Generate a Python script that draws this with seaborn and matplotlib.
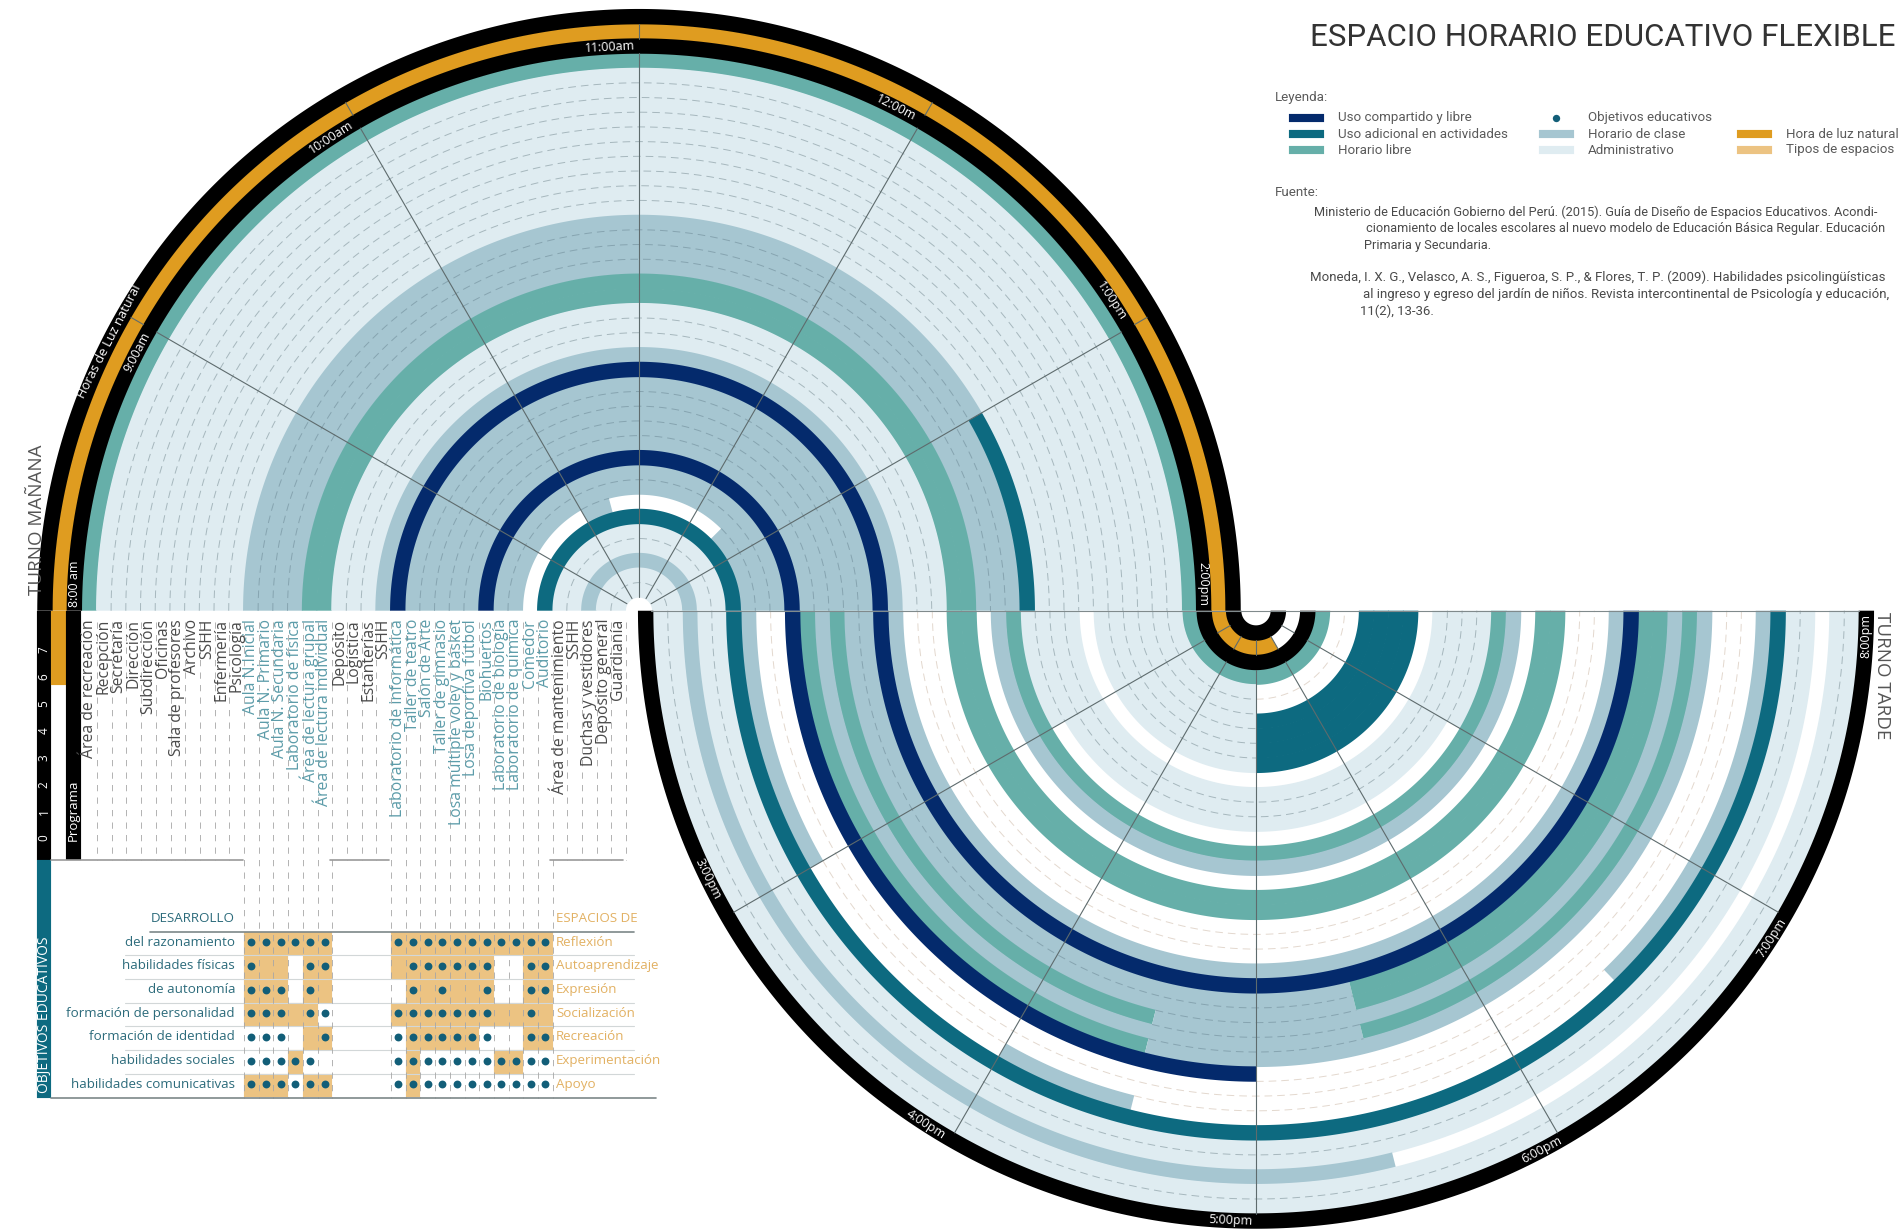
import numpy as np
import pandas as pd
import matplotlib
matplotlib.use("Agg")
import matplotlib.pyplot as plt
import seaborn as sns

# ---------- data ----------
rooms = ["Área de recreación", "Recepción", "Secretaría", "Dirección", "Subdirección", "Oficinas",
         "Sala de profesores", "Archivo", "SSHH", "Enfermería", "Psicología",
         "Aula N.Inicial", "Aula N. Primario", "Aula N. Secundaria", "Laboratorio de física",
         "Área de lectura grupal", "Área de lectura individual",
         "Depósito", "Logística", "Estanterías", "SSHH",
         "Laboratorio de informática", "Taller de teatro", "Salón de Arte", "Taller de gimnasio",
         "Losa múltiple voley y básket", "Losa deportiva fútbol", "Biohuertos",
         "Laboratorio de biología", "Laboratorio de química", "Comedor", "Auditorio",
         "Área de mantenimiento", "SSHH", "Duchas y vestidores", "Depósito general", "Guardianía"]
teal_rooms = list(range(11, 17)) + list(range(21, 32))

# ring codes from ring -3 (outer band of the morning half) to ring 36
morning_codes = list("KOK" + "H" + "L" * 10 + "CCCC" + "HH" + "LLL" + "C" + "U" + "CCCCC" + "U" + "CC" + "W" + "A" + "LL" + "C" + "LL")
morning_changes = [(11, 13, 14, "A"), (30, 10, 10.5, "C"), (30, 12.5, 14, "C")]

# ring codes from ring -3 to ring 37 for the afternoon half
afternoon_codes = list("KOK" + "H" + "LLLLLL" + "W" + "LLLL" + "H" + "C" + "W" + "HH" + "WWW" + "C" + "U" + "CC" + "H" + "C" + "H" + "U" + "WW" + "C" + "A" + "LL" + "C" + "LL" + "K")
afternoon_changes = [(-2, 18, 20, "W"), (1, 17, 20, "W"), (2, 17, 20, "W"),
                     (3, 17, 20, "A"), (4, 17, 20, "A"), (5, 17, 20, "A"), (6, 17, 20, "A"),
                     (11, 15, 19, "W"), (22, 17.47, 20, "H"), (23, 17.47, 20, "H"),
                     (24, 16.53, 20, "C"), (25, 17.47, 20, "H"), (26, 16.53, 20, "C"),
                     (27, 17, 20, "W"), (30, 15, 16, "W"), (30, 16.53, 18.47, "W"), (34, 17.47, 20, "W")]

palette = {"L": "#DFECF1", "C": "#A6C6D1", "H": "#66AFA9", "A": "#0D6A80", "U": "#042A6C",
           "W": "#FFFFFF", "K": "#000000", "O": "#DF9C20"}

morning_labels = ["8:00 am", "9:00am", "10:00am", "11:00am", "12:00m", "1:00pm", "2:00pm"]
morning_label_hours = [8.09, 8.91, 9.9, 10.9, 11.9, 12.89, 13.91]
afternoon_labels = ["3:00pm", "4:00pm", "5:00pm", "6:00pm", "7:00pm", "8:00pm"]
afternoon_label_hours = [14.87, 15.91, 16.92, 17.93, 18.92, 19.92]

objetivos = ["del razonamiento", "habilidades físicas", "de autonomía", "formación de personalidad",
             "formación de identidad", "habilidades sociales", "habilidades comunicativas"]
espacios = ["Reflexión", "Autoaprendizaje", "Expresión", "Socialización", "Recreación",
            "Experimentación", "Apoyo"]
table_rooms = list(range(11, 17)) + list(range(21, 32))
table_fill = ["111111" + "11111111111",
              "111011" + "11111110011",
              "111011" + "01111110011",
              "111110" + "11111111111",
              "000011" + "01111100011",
              "000100" + "01000001100",
              "111011" + "01000000000"]
table_dots = ["111111" + "11111111111",
              "100011" + "01111110011",
              "111010" + "01010010011",
              "111011" + "11111110010",
              "111001" + "11111110011",
              "111110" + "11111111111",
              "111111" + "11111111111"]
scale_numbers = [7, 6, 5, 4, 3, 2, 1, 0]

# ---------- geometry (pixels of the 1901x1232 canvas) ----------
RING = 14.7
BASE_Y = 610.7
CX1, CX2 = 639.0, 1256.0
TEAL_TXT = "#5C9CA9"
DARK_TXT = "#4a4a4a"
TBL_TXT = "#2C6B7B"
ORANGE_LIGHT = "#ECC382"
ORANGE_TXT = "#E2B163"
BODY = "Open Sans"
DIN = "Roboto"

sns.set_theme(style="white")
plt.rcParams["font.family"] = [BODY, "DejaVu Sans"]
plt.rcParams["lines.scale_dashes"] = False

fig = plt.figure(figsize=(19.01, 12.32), dpi=100, facecolor="white")
ax = fig.add_axes([0, 0, 1, 1])
ax.set_xlim(0, 1901)
ax.set_ylim(1232, 0)
ax.axis("off")


def top_r(j):
    return 13.4 + RING * (36 - j)


def bot_r(j):
    return 15.0 + RING * (j + 3)


def theta(h):
    return np.deg2rad(180 - (h - 8) * 30) if h <= 14 else np.deg2rad(180 + (h - 14) * 30)


def angles(h0, h1):
    n = max(2, int(abs(h1 - h0) * 60))
    hs = np.linspace(h0, h1, n)
    if h1 <= 14:
        return np.deg2rad(180 - (hs - 8) * 30)
    return np.deg2rad(180 + (hs - 14) * 30)


def band(cx, r0, r1, h0, h1, color, z=2):
    t = angles(h0, h1)
    xs = np.r_[cx + r0 * np.cos(t), cx + r1 * np.cos(t[::-1])]
    ys = np.r_[BASE_Y - r0 * np.sin(t), BASE_Y - r1 * np.sin(t[::-1])]
    ax.fill(xs, ys, facecolor=color, edgecolor="none", zorder=z)


def arc(cx, r, h0, h1, **kw):
    t = angles(h0, h1)
    ax.plot(cx + r * np.cos(t), BASE_Y - r * np.sin(t), **kw)


def rect(x0, x1, y0, y1, color, z=2):
    ax.fill([x0, x1, x1, x0], [y0, y0, y1, y1], facecolor=color, edgecolor=color, lw=0.1, zorder=z)


def draw_half(codes, changes, h_start, h_end, cx, rfun):
    frame = pd.DataFrame({"ring": range(-3, len(codes) - 3), "code": codes})
    grids = {}
    for ring, code in zip(frame["ring"], frame["code"]):
        edits = [c for c in changes if c[0] == ring]
        pts = sorted({h_start, h_end} | {c[1] for c in edits} | {c[2] for c in edits})
        segs = []
        for a, b in zip(pts[:-1], pts[1:]):
            cat = code
            for c in edits:
                if c[1] <= a and b <= c[2]:
                    cat = c[3]
            segs.append((a, b, cat))
        grids[ring] = segs
    # rings with the same kind side by side are filled with a slight overlap, so no seam shows
    for ring in frame["ring"]:
        for a, b, cat in grids[ring]:
            if cat != "W":
                band(cx, rfun(ring) - 0.35, rfun(ring) + RING + 0.35, a, b, palette[cat],
                     z=2 + (0.1 if cat in "UAK" else 0))
    rings = list(frame["ring"])
    for r_a, r_b in zip(rings[:-1], rings[1:]):
        pts = sorted({p for s in grids[r_a] + grids[r_b] for p in s[:2]})
        radius = max(rfun(r_a), rfun(r_b))
        for a, b in zip(pts[:-1], pts[1:]):
            mid = (a + b) / 2
            ca = next(s[2] for s in grids[r_a] if s[0] <= mid <= s[1])
            cb = next(s[2] for s in grids[r_b] if s[0] <= mid <= s[1])
            if ca == cb and ca in "LCW":
                col = {"L": "#A6B7BD", "C": "#86A4B0", "W": "#E3D8CE"}[ca]
                arc(cx, radius, a, b, color=col, lw=0.7, ls=(0, (5.5, 3.6)), zorder=3)


draw_half(morning_codes, morning_changes, 8, 14, CX1, top_r)
draw_half(afternoon_codes, afternoon_changes, 14.0001, 20, CX2, bot_r)

# spokes
SPOKE = "#5e6b6d"
for h in range(9, 14):
    t = theta(h)
    for r0, r1 in [(14, top_r(0) + RING), (top_r(-2), top_r(-2) + RING)]:
        ax.plot([CX1 + r0 * np.cos(t), CX1 + r1 * np.cos(t)],
                [BASE_Y - r0 * np.sin(t), BASE_Y - r1 * np.sin(t)], color=SPOKE, lw=0.8, zorder=4)
for h in range(15, 20):
    t = theta(h)
    for r0, r1 in [(bot_r(-2), bot_r(-2) + RING), (bot_r(0), bot_r(37))]:
        ax.plot([CX2 + r0 * np.cos(t), CX2 + r1 * np.cos(t)],
                [BASE_Y - r0 * np.sin(t), BASE_Y - r1 * np.sin(t)], color=SPOKE, lw=0.8, zorder=4)
ax.plot([CX1 + 12, CX2 + bot_r(37)], [BASE_Y, BASE_Y], color="#808a8c", lw=0.8, zorder=4)

# hour labels on the black bands
r_lab = top_r(-1) + RING / 2
for lab, h in zip(morning_labels, morning_label_hours):
    t = theta(h)
    rot = 180 - (h - 8) * 30 - 90
    if lab == "8:00 am":
        rot = 90
    if lab == "2:00pm":
        rot = -90
    ax.text(CX1 + r_lab * np.cos(t), BASE_Y - r_lab * np.sin(t), lab, color="white", fontsize=9,
            rotation=rot, ha="center", va="center", rotation_mode="anchor", zorder=6)
r_lab2 = bot_r(37) + RING / 2
for lab, h in zip(afternoon_labels, afternoon_label_hours):
    t = theta(h)
    rot = (180 + (h - 14) * 30) + 90
    if lab == "8:00pm":
        rot = 90
    ax.text(CX2 + r_lab2 * np.cos(t), BASE_Y - r_lab2 * np.sin(t), lab, color="white", fontsize=9,
            rotation=rot, ha="center", va="center", rotation_mode="anchor", zorder=6)
t = np.deg2rad(153)
r_h = top_r(-3) + RING / 2
ax.text(CX1 + r_h * np.cos(t), BASE_Y - r_h * np.sin(t), "Horas de Luz natural", color="white", fontsize=9.3,
        rotation=63, ha="center", va="center", rotation_mode="anchor", zorder=6)

# left side columns
rect(37, 51, BASE_Y, 860, "#000000")
rect(51, 65.6, BASE_Y, 685, palette["O"])
rect(65.6, 81, BASE_Y, 860, "#000000")
rect(37, 51, 860, 1098.3, palette["A"])
for n, y in zip(scale_numbers, np.linspace(650, 838, 8)):
    ax.text(44, y, str(n), color="white", fontsize=8.5, rotation=90, ha="center", va="center", zorder=6)
ax.text(73.3, 841, "Programa", color="white", fontsize=9.5, rotation=90, ha="center", va="bottom", zorder=6)
ax.text(44.5, 1015, "OBJETIVOS EDUCATIVOS", color="white", fontsize=10, rotation=90, ha="center", va="center", zorder=6)
ax.text(37, 520, "TURNO MAÑANA", color="#555555", fontsize=13.5, rotation=90, ha="center", va="center")
ax.text(1882, 676, "TURNO TARDE", color="#555555", fontsize=13.5, rotation=-90, ha="center", va="center")

# room labels
LEFT0 = 82.3
for i, name in enumerate(rooms):
    ax.text(LEFT0 + RING * (i + 0.5) - 0.5, 619, name, rotation=90, ha="center", va="top", fontsize=11.3,
            color=TEAL_TXT if i in teal_rooms else DARK_TXT, zorder=6)
for i in range(1, 38):
    x = LEFT0 + RING * i
    y1 = 1098 if (11 <= i <= 17 or 21 <= i <= 32) else 860
    ax.plot([x, x], [622, y1], color="#a6a6a6", lw=0.6, ls=(0, (4.5, 4.5)), zorder=3.5)
for x0, x1 in [(51, 243), (330, 389), (550, 623)]:
    ax.plot([x0, x1], [860, 860], color="#9a9a9a", lw=1.2, zorder=4)

# table
TOP = 931.7
ROW_H = 23.65
for r, (name, esp) in enumerate(zip(objetivos, espacios)):
    yc = TOP + ROW_H * (r + 0.45)
    ax.text(235, yc, name, ha="right", va="center", fontsize=9.6, color=TBL_TXT, zorder=6)
    ax.text(556, yc, esp, ha="left", va="center", fontsize=9.6, color=ORANGE_TXT, zorder=6)
    for c, j in enumerate(table_rooms):
        if table_fill[r][c] == "1":
            rect(LEFT0 + RING * j, LEFT0 + RING * (j + 1), TOP + ROW_H * r, TOP + ROW_H * (r + 1), ORANGE_LIGHT)
    if r:
        ax.plot([125, 634], [TOP + ROW_H * r] * 2, color="#d2d7d8", lw=0.8, zorder=3)
dots = pd.DataFrame([
    {"x": LEFT0 + RING * (j + 0.5), "y": TOP + ROW_H * (r + 0.45)}
    for r in range(len(objetivos)) for c, j in enumerate(table_rooms) if table_dots[r][c] == "1"])
sns.scatterplot(data=dots, x="x", y="y", ax=ax, color="#125E78", s=32, linewidth=0, legend=False, zorder=5)
ax.set_xlim(0, 1901)
ax.set_ylim(1232, 0)
ax.axis("off")
ax.plot([150, 634], [TOP, TOP], color="#7d8789", lw=1.2, zorder=4)
ax.plot([51, 656], [1098.3, 1098.3], color="#7d8789", lw=1.2, zorder=4)
ax.text(235, 918, "DESARROLLO", ha="right", va="center", fontsize=9.6, color=TBL_TXT)
ax.text(556, 918, "ESPACIOS DE", ha="left", va="center", fontsize=9.6, color=ORANGE_TXT)

# title, legend and sources
ax.text(1309.5, 38, "ESPACIO HORARIO EDUCATIVO FLEXIBLE", family=DIN, fontsize=22.5, color="#333333", ha="left", va="center")
txt = dict(family=DIN, fontsize=9.6, color="#5a5a5a", va="center", ha="left")
ax.text(1275, 98, "Leyenda:", **txt)
ax.text(1275, 192.7, "Fuente:", **txt)
legend_rows = [(1288.5, 1338, 118, "U", "Uso compartido y libre"),
               (1288.5, 1338, 134, "A", "Uso adicional en actividades"),
               (1288.5, 1338, 150, "H", "Horario libre"),
               (1538.5, 1588, 134, "C", "Horario de clase"),
               (1538.5, 1588, 150, "L", "Administrativo"),
               (1736.6, 1786, 134, "O", "Hora de luz natural"),
               (1736.6, 1786, 150, "T", "Tipos de espacios")]
for x0, xt, y, code, lab in legend_rows:
    rect(x0, x0 + 35.5, y - 4, y + 4, ORANGE_LIGHT if code == "T" else palette[code])
    ax.text(xt, y, lab, **txt)
sns.scatterplot(x=[1556], y=[118], ax=ax, color="#125E78", s=28, linewidth=0, legend=False, zorder=5)
ax.set_xlim(0, 1901)
ax.set_ylim(1232, 0)
ax.axis("off")
ax.text(1588, 118, "Objetivos educativos", **txt)
sources = [(1314, 212, "Ministerio de Educación Gobierno del Perú. (2015). Guía de Diseño de Espacios Educativos. Acondi-", 9.2),
           (1365.6, 228.7, "cionamiento de locales escolares al nuevo modelo de Educación Básica Regular. Educación", 9.2),
           (1364, 245, "Primaria y Secundaria.", 9.2),
           (1309.6, 277.7, "Moneda, I. X. G., Velasco, A. S., Figueroa, S. P., & Flores, T. P. (2009). Habilidades psicolingüísticas", 9.5),
           (1363, 294.7, "al ingreso y egreso del jardín de niños. Revista intercontinental de Psicología y educación,", 9.5),
           (1360, 311.7, "11(2), 13-36.", 9.5)]
txt2 = dict(txt, color="#4a4a4a")
for x, y, s, fs in sources:
    txt2["fontsize"] = fs
    ax.text(x, y, s, **txt2)

fig.savefig("out.png", dpi=100, facecolor="white")
